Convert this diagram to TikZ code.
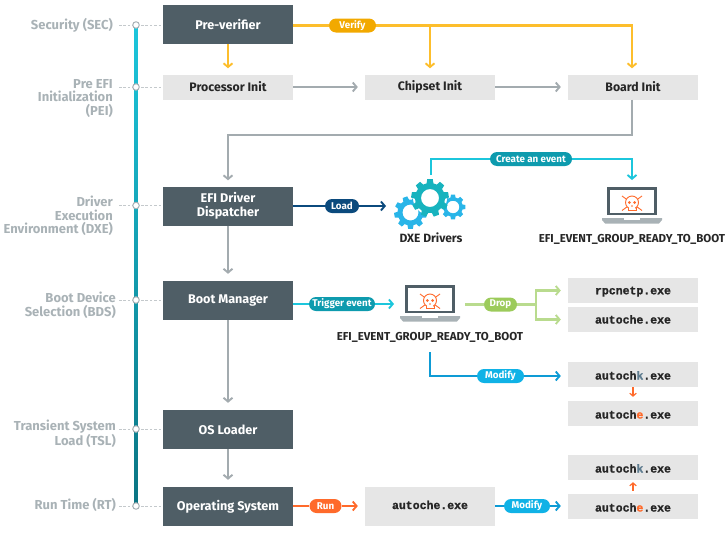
\documentclass[tikz,border=0pt]{standalone}
\usepackage{fontspec}
\setmainfont{Fira Sans}
\newfontfamily\monof[FakeBold=1.3]{Liberation Mono}
\usetikzlibrary{arrows.meta,calc}
\definecolor{boxdark}{HTML}{4F5E66}
\definecolor{boxlight}{HTML}{E6E6E6}
\definecolor{phasegray}{HTML}{A9B2B6}
\definecolor{dashgray}{HTML}{C4C9CC}
\definecolor{arrowgray}{HTML}{A3ABAF}
\definecolor{yline}{HTML}{FDBE2C}
\definecolor{ypill}{HTML}{F2A900}
\definecolor{navy}{HTML}{0B4A7D}
\definecolor{cyanline}{HTML}{1CC6DC}
\definecolor{tealpill}{HTML}{0E9BAE}
\definecolor{gline}{HTML}{B9DB8E}
\definecolor{gpill}{HTML}{9CCB5B}
\definecolor{bline}{HTML}{0E9BD5}
\definecolor{bpill}{HTML}{10B2E6}
\definecolor{orangec}{HTML}{FF6A2B}
\definecolor{kgray}{HTML}{5E7C8F}
\definecolor{gearblue}{HTML}{29B5E8}
\definecolor{gearteal}{HTML}{17B3BE}
\tikzset{
  darkbox/.style={fill=boxdark,draw=none,minimum width=130pt,minimum height=39pt,inner sep=0pt,align=center,text=white,font=\fontsize{12.6}{13.6}\selectfont\bfseries},
  lightbox/.style={fill=boxlight,draw=none,minimum width=130pt,minimum height=25pt,inner sep=0pt,align=center,text=black!85,font=\fontsize{12.3}{13.6}\selectfont\bfseries},
  monobox/.style={lightbox,text depth=0pt,text height=#1,font=\fontsize{11.5}{13.6}\selectfont\monof\bfseries},
  monobox/.default=10pt,
  phase/.style={anchor=east,inner sep=0pt,align=right,text=phasegray,font=\fontsize{13}{13.6}\selectfont\bfseries},
  tick/.style={circle,draw=phasegray,fill=white,line width=1pt,minimum size=6.5pt,inner sep=0pt},
  guide/.style={dashgray,line width=0.9pt,dash pattern=on 2.6pt off 1.8pt},
  link/.style={line width=2.1pt,-{Straight Barb[length=3.8pt,width=9pt,line width=1.9pt]}},
  plainlink/.style={line width=2.1pt},
  smalllink/.style={orangec,line width=1.3pt,-{Straight Barb[length=2.8pt,width=6.5pt,line width=1.2pt]}},
  pillnode/.style={rounded corners=7pt,minimum height=14pt,inner sep=0pt,text=white,font=\fontsize{9.8}{10}\selectfont\bfseries},
  caption/.style={inner sep=0pt,text=black!85,font=\fontsize{11.5}{12}\selectfont\bfseries},
}
\newcommand{\gearshape}[8]{% x y outer root hole teeth rot colour
  \gdef\gearpath{}%
  \pgfmathsetmacro{\gst}{360/#6}%
  \foreach \ii in {1,...,#6}{%
    \pgfmathsetmacro{\gaa}{#7+\gst*\ii}%
    \pgfmathsetmacro{\gxa}{#1+(#4)*cos(\gaa-0.33*\gst)}\pgfmathsetmacro{\gya}{#2+(#4)*sin(\gaa-0.33*\gst)}%
    \pgfmathsetmacro{\gxb}{#1+(#3)*cos(\gaa-0.21*\gst)}\pgfmathsetmacro{\gyb}{#2+(#3)*sin(\gaa-0.21*\gst)}%
    \pgfmathsetmacro{\gxc}{#1+(#3)*cos(\gaa+0.21*\gst)}\pgfmathsetmacro{\gyc}{#2+(#3)*sin(\gaa+0.21*\gst)}%
    \pgfmathsetmacro{\gxd}{#1+(#4)*cos(\gaa+0.33*\gst)}\pgfmathsetmacro{\gyd}{#2+(#4)*sin(\gaa+0.33*\gst)}%
    \xdef\gearpath{\gearpath (\gxa,\gya) -- (\gxb,\gyb) -- (\gxc,\gyc) -- (\gxd,\gyd) -- }%
  }%
  \fill[#8,even odd rule] \gearpath cycle (#1,#2) circle[radius=#5];
}
\newcommand{\laptop}[2]{% centre x, top y of lid
  \begin{scope}[shift={(#1,#2)}]
    \fill[boxdark] (-25,0) rectangle (25,28);
    \fill[white] (-22,3) rectangle (22,25.5);
    \fill[phasegray] (-30,31) -- (30,31) -- (30,33) -- (27,36.5) -- (-27,36.5) -- (-30,33) -- cycle;
    \fill[white] (-8,31) rectangle (8,33);
    \begin{scope}[draw=orangec,line width=0.9pt]
      \draw (-10,9) -- (10,23.5) (10,9) -- (-10,23.5);
      \draw[fill=white] (-4,19) rectangle (4,23);
      \draw[fill=white] (0,15.5) circle[radius=6.5];
      \fill[white] (-3.4,19) rectangle (3.4,22.5);
    \end{scope}
    \fill[orangec] (-2.7,15.5) circle[radius=1.5] (2.7,15.5) circle[radius=1.5] (0,19) circle[radius=0.8];
  \end{scope}
}
\begin{document}
\begin{tikzpicture}[x=1pt,y=-1pt]
\useasboundingbox (0,0) rectangle (728,533);
% process boxes
\node[darkbox] (pre) at (228,24.5) {Pre-verifier};
\node[lightbox] (proc) at (228,87) {Processor Init};
\node[lightbox] (chip) at (430,87) {Chipset Init};
\node[lightbox] (board) at (633,87) {Board Init};
\node[darkbox] (efi) at (228,206) {EFI Driver\\Dispatcher};
\node[darkbox] (boot) at (228,300.5) {Boot Manager};
\node[darkbox] (osl) at (228,429.5) {OS Loader};
\node[darkbox] (os) at (228,506.5) {Operating System};
\node[monobox=5pt,minimum height=39pt] (mid) at (430,506.5) {autoche.exe};
\node[monobox=7.5pt] (rpc) at (633,290.5) {rpcnetp.exe};
\node[monobox=8pt] (auto) at (633,319.5) {autoche.exe};
\node[monobox] (ka) at (633,374.5) {autoch\textcolor{kgray}{k}.exe};
\node[monobox] (ea) at (633,413.5) {autoch\textcolor{orangec}{e}.exe};
\node[monobox] (kb) at (633,467.5) {autoch\textcolor{kgray}{k}.exe};
\node[monobox] (eb) at (633,506.5) {autoch\textcolor{orangec}{e}.exe};
% timeline
\shade[top color=cyanline,bottom color=tealpill!75!black] (134.7,25) rectangle (137.3,506);
\foreach \n/\yy in {t1/25,t2/87,t3/205.5,t4/300,t5/429,t6/506}{
  \draw[guide] (119,\yy) -- (161,\yy);
  \node[tick] (\n) at (136,\yy) {};
}
% phase labels
\node[phase] (l1) at (113,25) {Security (SEC)};
\node[phase] (l2) at (113,98.5) {Pre EFI\\Initialization\\(PEI)};
\node[phase] (l3) at (113,216) {Driver\\Execution\\Environment (DXE)};
\node[phase] (l4) at (116,305) {Boot Device\\Selection (BDS)};
\node[phase] (l5) at (116,434) {Transient System\\Load (TSL)};
\node[phase] (l6) at (116,504.5) {Run Time (RT)};
% pills
\node[pillnode,fill=ypill,minimum width=47pt] (verify) at (352.5,25.5) {Verify};
\node[pillnode,fill=tealpill,minimum width=82pt] (create) at (531,159) {Create an event};
\node[pillnode,fill=navy,minimum width=34pt] (load) at (342,206) {Load};
\node[pillnode,fill=tealpill,minimum width=66pt] (trig) at (342,304) {Trigger event};
\node[pillnode,fill=gpill,minimum width=33pt] (drop) at (500.5,304.5) {Drop};
\node[pillnode,fill=bpill,minimum width=47pt] (mod1) at (500.5,376) {Modify};
\node[pillnode,fill=orangec,minimum width=32pt] (run) at (325.5,506) {Run};
\node[pillnode,fill=bpill,minimum width=46pt] (mod2) at (527,506) {Modify};
% icons
\gearshape{410.5}{212.5}{16.5}{13}{8}{9}{10}{gearblue}
\gearshape{453}{207}{12.5}{9.8}{6.3}{8}{0}{gearblue}
\fill[white] (430,198) circle[radius=17];
\gearshape{430}{198}{19}{15}{9}{9}{-10}{gearteal}
\laptop{632}{187}
\laptop{430}{285}
\coordinate (gearsTop) at (431,175);
\coordinate (gearsIn) at (386,206);
\coordinate (lapTopIn) at (632,180);
\coordinate (lapIn) at (394,304);
\coordinate (lapOut) at (465,304.5);
\coordinate (lapDown) at (430,352);
\coordinate (fork) at (536,304.5);
% captions
\node[caption,font=\fontsize{12}{12}\selectfont\bfseries] (dxe) at (431,238) {DXE Drivers};
\node[caption] (ev1) at (632,239) {EFI\_EVENT\_GROUP\_READY\_TO\_BOOT};
\node[caption] (ev2) at (430,337) {EFI\_EVENT\_GROUP\_READY\_TO\_BOOT};
% yellow
\draw[link,yline] (pre.south) -- ($(proc.north)+(0,-6)$);
\draw[plainlink,yline] (pre.east |- verify) -- (verify.west);
\draw[link,yline] (verify.east) -| ($(board.north)+(-1,-6)$);
\draw[link,yline] (verify.east -| chip.north) -- ($(chip.north)+(0,-6)$);
% gray
\draw[link,arrowgray] (proc.east) -- ($(chip.west)+(-7,0)$);
\draw[link,arrowgray] (chip.east) -- ($(board.west)+(-7,0)$);
\draw[link,arrowgray] ($(board.south)+(-1,0)$) |- ($(efi.north)+(0,-51)$) -- ($(efi.north)+(0,-6)$);
\draw[link,arrowgray] (efi.south) -- ($(boot.north)+(0,-7)$);
\draw[link,arrowgray] (boot.south) -- ($(osl.north)+(0,-7)$);
\draw[link,arrowgray] (osl.south) -- ($(os.north)+(0,-7)$);
% load
\draw[plainlink,navy] (efi.east) -- (load.west);
\draw[link,navy] (load.east) -- (gearsIn);
% create
\draw[plainlink,cyanline] (gearsTop) |- (create.west);
\draw[link,cyanline] (create.east) -| (lapTopIn);
% trigger
\draw[plainlink,cyanline] (boot.east |- trig) -- (trig.west);
\draw[link,cyanline] (trig.east) -- (lapIn);
% drop
\draw[plainlink,gline] (lapOut) -- (drop.west);
\draw[plainlink,gline] (drop.east) -- (fork);
\draw[link,gline] (fork) |- ($(rpc.west)+(-7,0)$);
\draw[link,gline] (fork) |- ($(auto.west)+(-7,0)$);
% modify
\draw[plainlink,bline] (lapDown) |- (mod1.west);
\draw[link,bline] (mod1.east) -- ($(ka.west)+(-7,1.5)$);
\draw[smalllink] (ka.south) -- ($(ea.north)+(0,-4)$);
\draw[smalllink] ($(eb.north)+(0,-3)$) -- ($(kb.south)+(0,2)$);
% run
\draw[plainlink,orangec] (os.east |- run) -- (run.west);
\draw[link,orangec] (run.east) -- ($(mid.west)+(-7,-0.5)$);
\draw[plainlink,bline] (mid.east |- mod2) -- (mod2.west);
\draw[link,bline] (mod2.east) -- ($(eb.west)+(-7,-0.5)$);
\end{tikzpicture}
\end{document}
